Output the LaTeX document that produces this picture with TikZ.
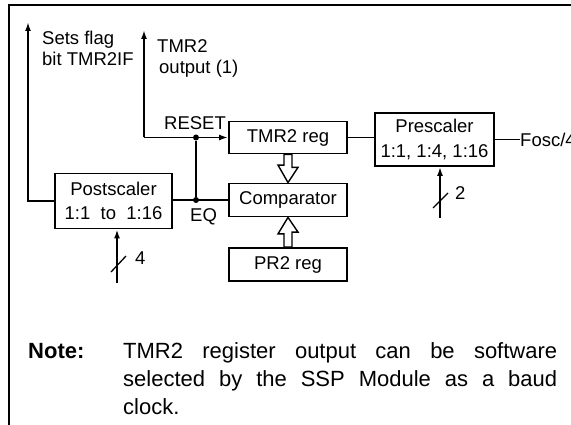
\documentclass[tikz,border=0pt]{standalone}
\usepackage{fontspec}
\setmainfont{Liberation Sans}
\usetikzlibrary{arrows.meta}
\begin{document}
\begin{tikzpicture}[x=1pt,y=-1pt,
  box/.style={draw, line width=1.8pt, inner sep=0pt, align=center,
    font=\fontsize{18.5}{24.5}\selectfont},
  wire/.style={line width=1.8pt},
  thin/.style={line width=1.3pt},
  arr/.style={wire,-{Latex[length=9pt,width=6pt]}},
  lbl/.style={font=\fontsize{18.5}{22}\selectfont, inner sep=0pt},
  notefont/.style={font=\fontsize{22}{28}\selectfont, inner sep=0pt},
  jdot/.style={circle, fill, inner sep=0pt, minimum size=6pt},
  hollow/.style={draw, line width=1.4pt, fill=white, line join=miter}
]
\useasboundingbox (0,0) rectangle (571,425);
\clip (0,0) rectangle (571,425);

% frame
\draw[wire] (9,425) -- (9,5) -- (572,5);

% boxes
\node[box, minimum width=118pt, minimum height=32pt] (tmr) at (288,137.5) {TMR2 reg};
\node[box, minimum width=118pt, minimum height=33pt] (cmp) at (288,200) {Comparator};
\node[box, minimum width=118pt, minimum height=33pt] (pr2) at (288,264.5) {PR2 reg};
\node[box, minimum width=119pt, minimum height=53pt] (pre) at (434.5,139.5) {Prescaler\\1:1, 1:4, 1:16};
\node[box, minimum width=117pt, minimum height=55pt] (post) at (113.5,201) {Postscaler\\1:1\ \ to\ \ 1:16};

% junction dots
\node[jdot] (rdot) at (196,137.5) {};
\node[jdot] (edot) at (196,200) {};

% Sets flag output
\coordinate (sf) at (28,22);
\draw[arr] (post.west) -| (sf);
\node[lbl, anchor=base west] (sf1) at (42,45) {Sets flag};
\node[lbl, anchor=base west] (sf2) at (42,66) {bit TMR2IF};

% TMR2 output and RESET
\coordinate (tout) at (144,30);
\coordinate (rc) at (144,137.5);
\draw[arr] (rc) -- (tout);
\draw[arr] (rc) -- (tmr.west);
\node[lbl, anchor=base west] (t1) at (157,53) {TMR2};
\node[lbl, anchor=base west] (t2) at (159,74) {output (1)};
\node[lbl, anchor=base west] (rst) at (164,130) {RESET};

% EQ path
\draw[wire] (rdot) -- (edot);
\draw[wire] (post.east |- cmp.west) -- (cmp.west);
\node[lbl, anchor=base west] (eq) at (190,222) {EQ};

% TMR2 -> prescaler, Fosc/4
\draw[wire] (tmr.east) -- (pre.west |- tmr.east);
\node[lbl, anchor=west] (fosc) at (520,139.5) {Fosc/4};
\draw[wire] (pre.east) -- (fosc.west);

% hollow arrows
\draw[hollow] (tmr.south) ++(-4,0) -- ++(8,0) -- ++(0,13) -- ++(6,0)
  -- (cmp.north) -- ++(-10,-17.5) -- ++(6,0) -- cycle;
\draw[hollow] (pr2.north) ++(-4,0) -- ++(8,0) -- ++(0,-15) -- ++(6,0)
  -- (cmp.south) -- ++(-10,16.5) -- ++(6,0) -- cycle;

% postscaler select input
\coordinate (p4) at (117,283);
\draw[arr] (p4) -- (p4 |- post.south);
\draw[thin] (111,272) -- (126,256);
\node[lbl, anchor=base west] (n4) at (135,265) {4};

% prescaler select input
\coordinate (p2) at (440,218);
\draw[arr] (p2) -- (p2 |- pre.south);
\draw[thin] (433,208) -- (448,193);
\node[lbl, anchor=base west] (n2) at (455,200) {2};

% note
\node[notefont, anchor=base west, font=\fontsize{22}{28}\selectfont\bfseries] (note) at (28,358) {Note:};
\node[notefont, anchor=base west] (l1) at (123,358) {\makebox[434pt][s]{TMR2 register output can be software}};
\node[notefont, anchor=base west] (l2) at (123,386) {\makebox[434pt][s]{selected by the SSP Module as a baud}};
\node[notefont, anchor=base west] (l3) at (123,414) {clock.};
\end{tikzpicture}
\end{document}
